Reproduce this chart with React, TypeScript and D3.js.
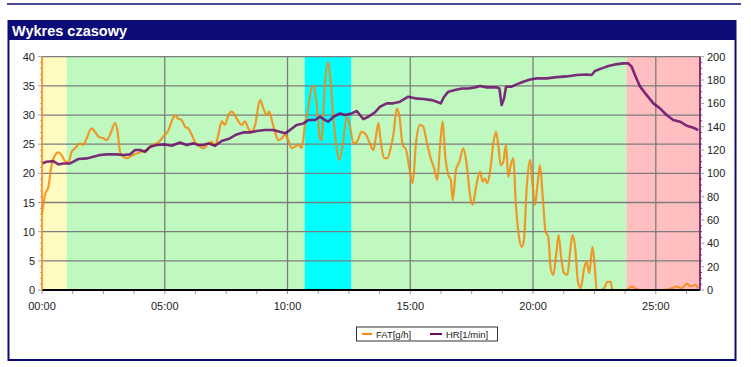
import React from "react";
import * as d3 from "d3";

// FAT [g/h] - time in minutes
const fatTime = [
  0, 0.12, 0.26, 0.39, 0.53, 0.67, 0.8, 0.94, 1.07, 1.21, 1.35, 1.55, 1.68, 1.82, 2.02, 2.16, 2.3, 2.5, 2.63,
  2.77, 2.97, 3.07, 3.18, 3.31, 3.45, 3.65, 3.86, 4.06, 4.26, 4.54, 4.74, 4.94, 5.15, 5.28, 5.42, 5.55, 5.69,
  5.83, 5.96, 6.1, 6.23, 6.44, 6.57, 6.78, 6.91, 7.05, 7.18, 7.32, 7.45, 7.59, 7.73, 7.93, 8.13, 8.27, 8.4,
  8.54, 8.68, 8.88, 9.02, 9.15, 9.26, 9.36, 9.49, 9.63, 9.76, 9.9, 10.03, 10.17, 10.31, 10.44, 10.58, 10.71,
  10.85, 10.98, 11.08, 11.19, 11.32, 11.39, 11.5, 11.64, 11.73, 11.84, 11.98, 12.11, 12.25, 12.41, 12.55,
  12.68, 12.82, 13.02, 13.2, 13.33, 13.5, 13.6, 13.7, 13.8, 13.93, 14.07, 14.2, 14.31, 14.45, 14.56, 14.69,
  14.83, 14.96, 15.1, 15.23, 15.4, 15.53, 15.67, 15.83, 15.97, 16.1, 16.21, 16.32, 16.42, 16.55, 16.65, 16.73,
  16.86, 17.0, 17.16, 17.3, 17.43, 17.54, 17.68, 17.84, 17.95, 18.04, 18.14, 18.25, 18.38, 18.49, 18.59,
  18.68, 18.79, 18.9, 18.99, 19.09, 19.2, 19.3, 19.4, 19.54, 19.63, 19.74, 19.88, 19.97, 20.08, 20.18, 20.28,
  20.39, 20.51, 20.62, 20.72, 20.83, 20.94, 21.04, 21.15, 21.26, 21.4, 21.51, 21.61, 21.72, 21.83, 21.94,
  22.08, 22.18, 22.29, 22.42, 22.52, 22.59, 22.73, 22.89, 23.03, 23.16, 23.24, 23.54, 23.8, 24.02, 24.15,
  24.36, 25.3, 25.65, 25.85, 26.05, 26.26, 26.42, 26.6, 26.73,
];
const fatValues = [
  13.1, 16.3, 17.7, 21.4, 23.1, 23.6, 23.1, 22.1, 21.9, 23.7, 24.3, 25.1, 24.9, 26.0, 27.7, 27.1, 26.3, 26.0,
  25.7, 26.6, 28.6, 27.4, 23.7, 22.9, 22.6, 23.0, 23.4, 23.7, 24.0, 24.9, 25.3, 26.3, 27.4, 28.9, 29.9, 29.4,
  29.1, 28.0, 27.7, 26.6, 25.4, 24.6, 24.3, 25.1, 25.4, 24.7, 26.6, 28.9, 28.3, 30.0, 30.6, 29.4, 28.3, 28.9,
  27.7, 27.1, 28.3, 32.6, 31.1, 30.0, 30.6, 29.1, 27.1, 25.7, 26.0, 26.6, 25.7, 24.3, 24.6, 24.9, 24.3, 28.3,
  31.4, 34.6, 34.9, 31.7, 26.0, 25.7, 34.0, 39.1, 36.9, 31.1, 24.9, 22.3, 24.9, 29.7, 28.0, 25.1, 25.4, 27.1,
  26.6, 25.4, 24.0, 26.3, 28.6, 25.4, 22.6, 22.6, 24.3, 26.6, 31.1, 29.7, 24.9, 24.0, 20.9, 18.3, 25.1, 28.3,
  28.0, 25.4, 22.6, 20.9, 18.9, 24.6, 28.9, 23.1, 19.7, 18.9, 15.4, 20.6, 22.0, 24.3, 21.4, 16.3, 14.6, 17.7,
  20.3, 18.6, 19.1, 18.3, 20.3, 25.1, 27.1, 24.6, 21.4, 22.0, 24.9, 19.4, 21.4, 22.6, 14.6, 10.0, 7.4, 8.6,
  17.4, 22.3, 18.6, 14.6, 18.0, 21.4, 16.3, 10.0, 9.1, 3.7, 2.6, 6.0, 9.4, 5.4, 2.9, 2.6, 6.6, 9.4, 7.1, 1.4,
  0.3, 3.7, 4.9, 2.9, 7.4, 3.7, 0, 0, 0.3, 1.4, 1.4, 0, 0, 0, 0.6, 0.3, 0, 0, 0.3, 0.6, 0.3, 1.1, 0.6, 0.9, 0.3,
];

// HR [1/min]
const hrTime = [
  0, 0.19, 0.46, 0.67, 0.87, 1.14, 1.28, 1.48, 1.82, 2.09, 2.36, 2.63, 3.04, 3.31, 3.59, 3.79, 3.99, 4.2, 4.4,
  4.67, 5.01, 5.28, 5.62, 5.89, 6.16, 6.37, 6.57, 6.78, 7.05, 7.32, 7.59, 7.93, 8.2, 8.47, 8.74, 9.08, 9.42,
  9.9, 10.1, 10.37, 10.65, 10.85, 11.12, 11.32, 11.53, 11.66, 11.87, 12.14, 12.34, 12.61, 12.82, 12.95, 13.09,
  13.29, 13.56, 13.77, 14.04, 14.31, 14.58, 14.92, 15.19, 15.53, 15.87, 16.08, 16.24, 16.38, 16.55, 16.82,
  17.1, 17.37, 17.64, 17.84, 18.11, 18.52, 18.63, 18.72, 18.82, 18.9, 19.13, 19.33, 19.6, 19.88, 20.15, 20.56,
  20.96, 21.37, 21.78, 22.18, 22.39, 22.52, 22.8, 23.07, 23.34, 23.68, 23.88, 24.02, 24.15, 24.36, 24.63, 24.9,
  25.17, 25.44, 25.71, 25.99, 26.26, 26.53, 26.73,
];
const hrValues = [
  108.5, 110, 110.5, 107.7, 108.5, 108.5, 110, 112.3, 112.8, 114.3, 115.7, 116.3, 116.3, 115.7, 116.3, 120, 120,
  118.5, 122.8, 124.3, 124.8, 123.7, 126.5, 124.3, 125.7, 124.3, 124.3, 125.7, 123.7, 127.7, 129.4, 133.4,
  135.1, 135.1, 136.3, 137.1, 137.1, 134.3, 137.1, 141.4, 142.8, 145.7, 145.7, 148.5, 145.7, 144.3, 148.5,
  151.4, 150, 151.4, 153.4, 150, 146.5, 148.5, 152.3, 157.1, 160, 160, 161.4, 165.7, 164.3, 163.7, 162.8,
  161.4, 160, 165.7, 170, 171.4, 172.8, 172.8, 173.7, 174.8, 173.7, 173.7, 172.8, 158.5, 164.3, 174.3, 174.3,
  176.3, 178.5, 180.5, 181.4, 181.4, 182.5, 183.1, 184.3, 184.8, 184.3, 187.7, 190, 192, 193.4, 194.3, 194.3,
  191.4, 184.3, 174.3, 167.1, 160, 155.7, 150, 145.7, 144.3, 140.8, 139.1, 137.1,
];

// training zones (minutes)
const zoneStart = [0, 1.0, 10.7, 12.6, 23.8];
const zoneEnd = [1.0, 10.7, 12.6, 23.8, 26.8];
const zoneColor = ["#fffbc0", "#bff9bf", "#00ffff", "#bff9bf", "#ffbfc1"];

const xMajor = [0, 5, 10, 15, 20, 25];
const fatTicks = [0, 5, 10, 15, 20, 25, 30, 35, 40];
const hrTicks = [0, 20, 40, 60, 80, 100, 120, 140, 160, 180, 200];

const WIDTH = 751;
const HEIGHT = 367;
const margin = { top: 56.7, right: 51, bottom: 77, left: 42 };
const FONT = "Liberation Sans, Arial, Helvetica, sans-serif";
const NAVY = "#0c0c78";
const ORANGE = "#f7870f";
const PURPLE = "#6a0a6a";

const pad = (n: number) => (n < 10 ? "0" + n : "" + n);

export default function App() {
  const x = d3
    .scaleLinear()
    .domain([0, 26.8])
    .range([margin.left, WIDTH - margin.right]);
  const yFat = d3
    .scaleLinear()
    .domain([0, 40])
    .range([HEIGHT - margin.bottom, margin.top]);
  const yHr = d3
    .scaleLinear()
    .domain([0, 200])
    .range([HEIGHT - margin.bottom, margin.top]);

  const x0 = x.range()[0];
  const x1 = x.range()[1];
  const yB = yFat(0);
  const yT = yFat(40);

  const fatLine = d3
    .line<number>()
    .x((d, i) => x(fatTime[i]))
    .y((d) => yFat(d))
    .curve(d3.curveMonotoneX);
  const hrLine = d3
    .line<number>()
    .x((d, i) => x(hrTime[i]))
    .y((d) => yHr(d));

  const xMinor = d3.range(0, 26.8, 1.25);
  const fatMinor = d3.range(0, 41, 1);
  const hrMinor = d3.range(0, 201, 5);

  return (
    <svg
      width={WIDTH}
      height={HEIGHT}
      style={{ position: "absolute", left: 0, top: 0, background: "#fff" }}
      fontFamily={FONT}
    >
      {/* frame */}
      <line x1={7} x2={741} y1={4} y2={4} stroke={NAVY} strokeWidth={1.6} />
      <rect x={8.5} y={21} width={727} height={339} fill="#fff" stroke={NAVY} strokeWidth={2} />
      <rect x={8.5} y={21} width={727} height={19} fill={NAVY} />
      <text x={12} y={36} fill="#fff" fontSize={14.5} fontWeight="bold">
        Wykres czasowy
      </text>

      {/* zones */}
      {zoneStart.map((s, i) => (
        <rect
          key={i}
          x={x(s)}
          y={yT}
          width={x(zoneEnd[i]) - x(s)}
          height={yB - yT}
          fill={zoneColor[i]}
        />
      ))}

      {/* grid */}
      {fatTicks.slice(1).map((t) => (
        <line key={t} x1={x0} x2={x1} y1={yFat(t)} y2={yFat(t)} stroke="#7d7d7d" strokeWidth={1.3} />
      ))}
      {xMajor.slice(1).map((t) => (
        <line key={t} x1={x(t)} x2={x(t)} y1={yT} y2={yB} stroke="#7d7d7d" strokeWidth={1.3} />
      ))}

      {/* series */}
      <path d={fatLine(fatValues) || ""} fill="none" stroke={ORANGE} strokeWidth={2.2} strokeOpacity={0.85} strokeLinejoin="round" />
      <path d={hrLine(hrValues) || ""} fill="none" stroke={PURPLE} strokeWidth={2.6} strokeOpacity={0.85} strokeLinejoin="round" />

      {/* bottom axis */}
      <line x1={x0} x2={x1} y1={yB} y2={yB} stroke="#000" strokeWidth={2.2} />
      {xMinor.map((t) => (
        <line key={t} x1={x(t)} x2={x(t)} y1={yB + 1} y2={yB + 4} stroke="#999" strokeWidth={1} />
      ))}
      {xMajor.map((t) => (
        <text key={t} x={x(t)} y={310} textAnchor="middle" fontSize={11} fill="#222">
          {pad(t) + ":00"}
        </text>
      ))}

      {/* left axis */}
      <line x1={x0} x2={x0} y1={yT} y2={yB} stroke={ORANGE} strokeWidth={1.6} />
      {fatMinor.map((t) => (
        <line
          key={t}
          x1={x0 - (t % 5 === 0 ? 4 : 2)}
          x2={x0}
          y1={yFat(t)}
          y2={yFat(t)}
          stroke={t % 5 === 0 ? "#888" : ORANGE}
          strokeWidth={0.8}
        />
      ))}
      {fatTicks.map((t) => (
        <text key={t} x={35} y={yFat(t) + 4} textAnchor="end" fontSize={11} fill="#222">
          {t}
        </text>
      ))}

      {/* right axis */}
      <line x1={x1} x2={x1} y1={yT} y2={yB} stroke={PURPLE} strokeWidth={1.6} />
      {hrMinor.map((t) => (
        <line
          key={t}
          x1={x1}
          x2={x1 + (t % 20 === 0 ? 4 : 2)}
          y1={yHr(t)}
          y2={yHr(t)}
          stroke={t % 20 === 0 ? "#888" : PURPLE}
          strokeWidth={0.8}
        />
      ))}
      {hrTicks.map((t) => (
        <text key={t} x={707} y={yHr(t) + 4} textAnchor="start" fontSize={11} fill="#222">
          {t}
        </text>
      ))}

      {/* legend */}
      <rect x={356.5} y={327} width={141} height={14} fill="#fff" stroke="#333" strokeWidth={1} />
      <line x1={362} x2={372} y1={334} y2={334} stroke={ORANGE} strokeWidth={2} />
      <text x={376} y={337.5} fontSize={9.5} fill="#222">
        FAT[g/h]
      </text>
      <line x1={430} x2={442} y1={334} y2={334} stroke={PURPLE} strokeWidth={2} />
      <text x={446} y={337.5} fontSize={9.5} fill="#222">
        HR[1/min]
      </text>
    </svg>
  );
}
